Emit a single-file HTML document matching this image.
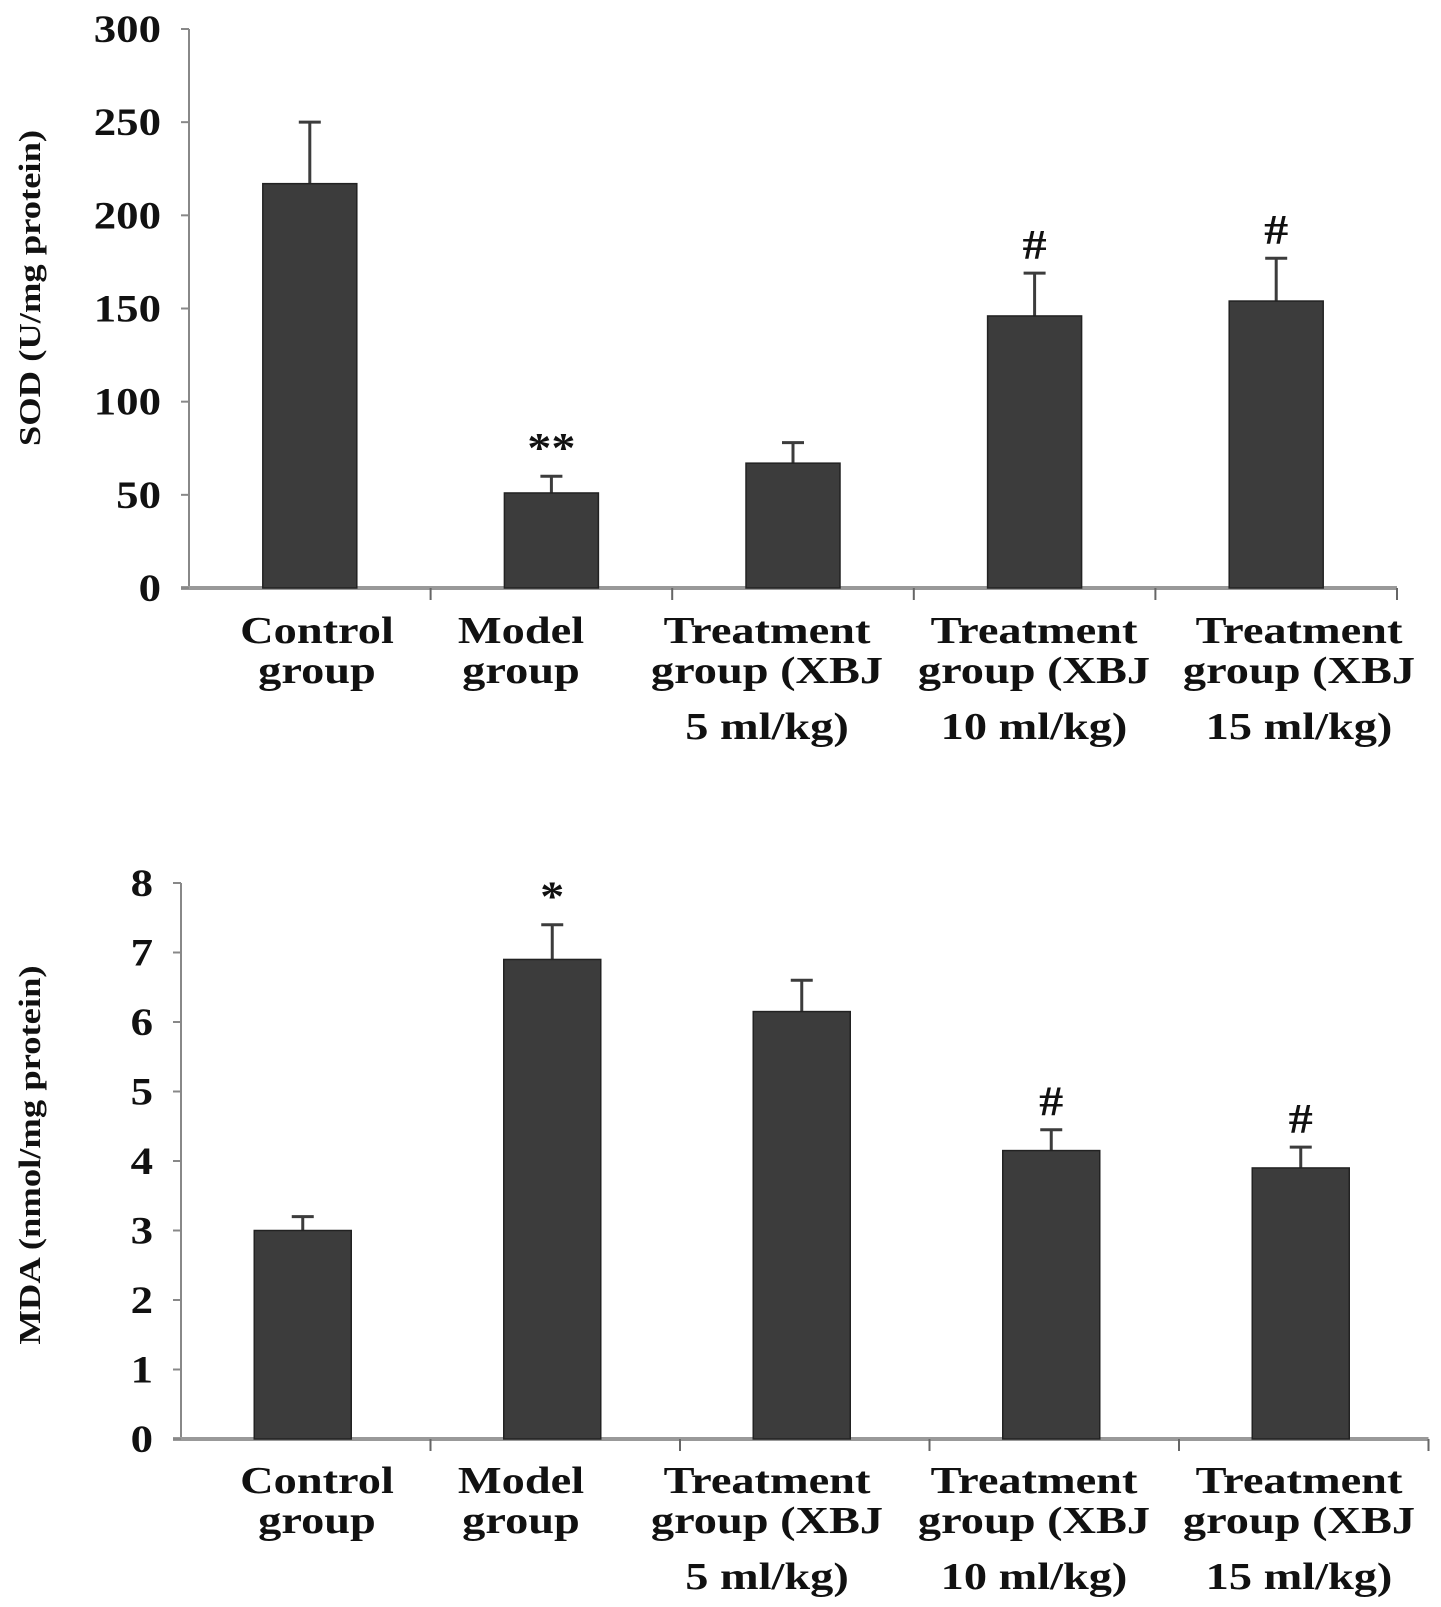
<!DOCTYPE html>
<html><head><meta charset="utf-8"><style>
html,body{margin:0;padding:0;background:#fff;}
svg{display:block;font-family:"Liberation Serif",serif;font-weight:bold;}
</style></head><body>
<svg id="c" width="1441" height="1607" viewBox="0 0 1441 1607" xmlns="http://www.w3.org/2000/svg"></svg>
<script>
const categories=[["Control","group"],["Model","group"],["Treatment","group (XBJ","5 ml/kg)"],["Treatment","group (XBJ","10 ml/kg)"],["Treatment","group (XBJ","15 ml/kg)"]];
const sodValues=[217,51,67,146,154];
const sodErrors=[33,9,11,23,23];
const sodMarks=["","**","","#","#"];
const sodTicks=[0,50,100,150,200,250,300];
const mdaValues=[3.0,6.9,6.15,4.15,3.9];
const mdaErrors=[0.2,0.5,0.45,0.3,0.3];
const mdaMarks=["","*","","#","#"];
const mdaTicks=[0,1,2,3,4,5,6,7,8];
const NS="http://www.w3.org/2000/svg";
const svg=document.getElementById('c');
function mk(t,a,p){const e=document.createElementNS(NS,t);for(const k in a)e.setAttribute(k,a[k]);(p||svg).appendChild(e);return e;}
function panel(o){
  const g=mk('g',{});
  
  
  const y=v=>o.y0-v/o.max*(o.y0-o.yTop);
  const cx=i=>o.x0+o.cw*(i+0.5)+o.shift;
  const ya=mk('line',{x1:o.x0,y1:o.yTop,x2:o.x0,y2:o.y0,stroke:'#888','stroke-width':2},g);
  
  const xa=mk('line',{x1:o.x0-8,y1:o.y0,x2:o.x0+o.cw*5,y2:o.y0,stroke:'#999','stroke-width':4},g);
  
  o.ticks.forEach(t=>{
    mk('line',{x1:o.x0-8,y1:y(t),x2:o.x0,y2:y(t),stroke:'#888','stroke-width':2},g);
    const tl=mk('text',{x:0,y:0,'text-anchor':'end','font-size':39,fill:'#111',transform:`translate(${o.x0-28},${y(t)+13}) scale(1.15,1)`},g);
    tl.textContent=t;
    
  });
  for(let i=1;i<=5;i++)mk('line',{x1:o.x0+o.cw*i,y1:o.y0,x2:o.x0+o.cw*i,y2:o.y0+12,stroke:'#666','stroke-width':2},g);
  o.vals.forEach((v,i)=>{
    const c=cx(i),ey=y(v+o.errs[i]);
    const el=mk('line',{x1:c,y1:y(v),x2:c,y2:ey,stroke:'#3c3c3c','stroke-width':3},g);
    
    mk('line',{x1:c-11,y1:ey,x2:c+11,y2:ey,stroke:'#3c3c3c','stroke-width':3},g);
    const b=mk('rect',{x:c-o.bw/2,y:y(v),width:o.bw,height:o.y0-y(v),fill:'#3c3c3c',stroke:'#222','stroke-width':1.5},g);
    
    if(o.marks[i]){
      const m=mk('text',{x:0,y:0,'text-anchor':'middle','font-size':42,fill:'#111',transform:`translate(${c},${ey-14}) scale(1.15,1)`},g);
      m.textContent=o.marks[i];
      
    }
  });
  const lx=[317,521,767,1034,1299];
  categories.forEach((ls,i)=>{
    const t=mk('text',{x:0,y:0,'text-anchor':'middle','font-size':38,fill:'#111',transform:`translate(${lx[i]},${o.labY}) scale(1.22,1)`},g);
    
    const dys=[0,40,96];
    ls.forEach((s,j)=>{const sp=mk('tspan',{x:0,y:dys[j]},t);sp.textContent=s;});
  });
  const yt=mk('text',{x:0,y:0,'text-anchor':'middle','font-size':31,fill:'#111',transform:`translate(40,${o.titleY}) rotate(-90) scale(1.18,1)`},g);
  yt.textContent=o.title;
  
}
panel({name:'sod-panel',x0:189,y0:588,yTop:29,max:300,cw:241.6,shift:0,bw:94,vals:sodValues,errs:sodErrors,marks:sodMarks,ticks:sodTicks,labY:643,title:'SOD (U/mg protein)',titleY:288});
panel({name:'mda-panel',x0:181,y0:1439,yTop:883,max:8,cw:249.5,shift:-3,bw:97,vals:mdaValues,errs:mdaErrors,marks:mdaMarks,ticks:mdaTicks,labY:1493,title:'MDA (nmol/mg protein)',titleY:1155});
</script>
</body></html>
